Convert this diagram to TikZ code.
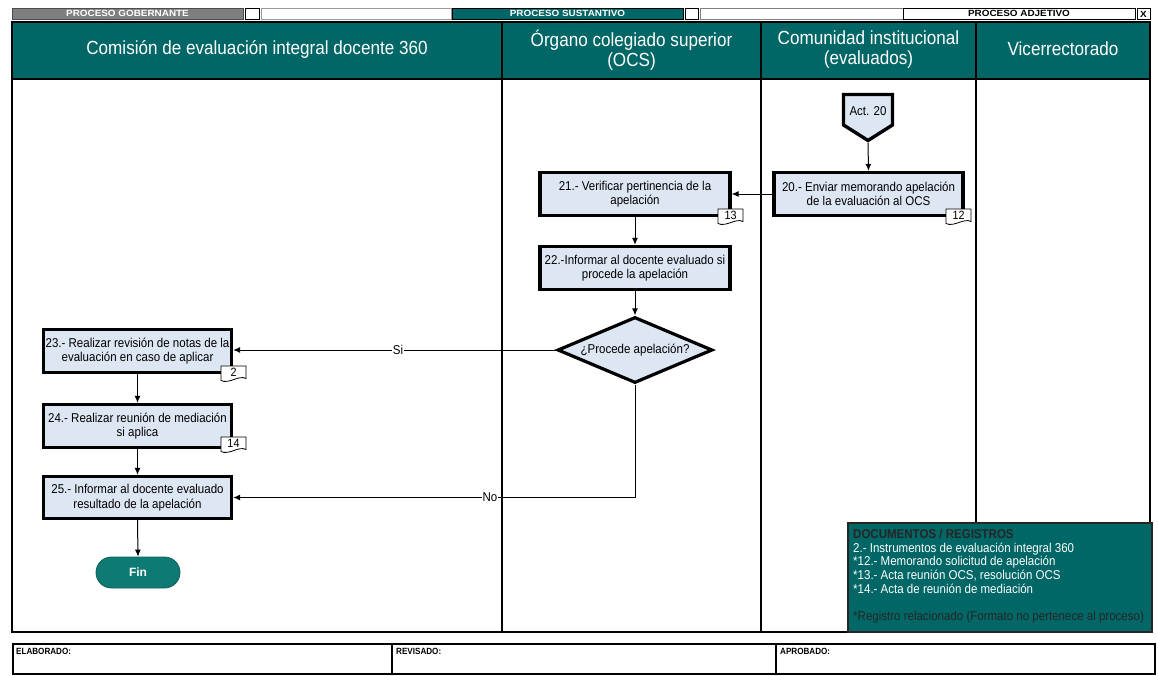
\documentclass[tikz,border=0pt]{standalone}
\usepackage{fontspec}
\setmainfont{Liberation Sans}
\newfontfamily\nar[FakeStretch=0.9]{Liberation Sans}
\newfontfamily\wide[FakeStretch=1.1]{Liberation Sans}
\usetikzlibrary{arrows.meta,shapes.geometric}
\definecolor{teal1}{HTML}{006666}
\definecolor{boxfill}{HTML}{DDE6F3}
\definecolor{finfill}{HTML}{0E7A73}
\definecolor{stripgray}{HTML}{7F7F7F}
\newcommand\doctag[4]{%
  \begin{scope}[shift={(#2,#3)}]
    \draw[tagshape] (0,0) -- (25,0) -- (25,12.5) .. controls (18,8.5) and (8,18.5) .. (0,14.5) -- cycle;
    \node[tagtext] (#1) at (12.5,6.5) {#4};
  \end{scope}}
\begin{document}
\begin{tikzpicture}[x=1pt,y=-1pt,
  proc/.style={draw=black, line width=3.4pt, fill=boxfill, align=center, inner sep=1pt,
    font=\nar\fontsize{12.8}{14.5}\selectfont},
  conn/.style={line width=1pt, -{Latex[length=7pt,width=6pt]}},
  hdr/.style={text=white, align=center, font=\nar\fontsize{19}{20}\selectfont},
  lbl/.style={fill=white, inner sep=1pt, font=\nar\fontsize{12.8}{14}\selectfont},
  tagshape/.style={draw=black, line width=0.8pt, fill=white},
  tagtext/.style={inner sep=0pt, font=\nar\fontsize{12}{12}\selectfont},
  striptext/.style={inner sep=0pt, font=\wide\bfseries\fontsize{9}{9}\selectfont},
  foottext/.style={anchor=north west, inner sep=0pt, font=\nar\bfseries\fontsize{9}{10}\selectfont},
]
\useasboundingbox (0,0) rectangle (1158,675);

% ---- top strip ----
\draw[line width=0.8pt, fill=stripgray, draw=black!70] (12,8) rectangle (243,19);
\node[striptext, text=white] (sgob) at (127.5,13.5) {PROCESO GOBERNANTE};
\draw[line width=0.8pt, fill=white] (245,8) rectangle (259,19);
\draw[line width=0.6pt, draw=black!40, fill=white] (261,8) rectangle (451,19);
\draw[line width=0.8pt, fill=teal1, draw=black] (452,8) rectangle (683,19);
\node[striptext, text=white] (ssus) at (567.5,13.5) {PROCESO SUSTANTIVO};
\draw[line width=0.8pt, fill=white] (685,8) rectangle (698,19);
\draw[line width=0.6pt, draw=black!50, fill=white] (700,8) rectangle (903,19);
\draw[line width=0.8pt, fill=white] (903,8) rectangle (1135,19);
\node[striptext, text=black] (sadj) at (1019,13.5) {PROCESO ADJETIVO};
\draw[line width=0.8pt, fill=white] (1137,8) rectangle (1150,19);
\node[striptext, text=black] (sx) at (1143.5,14) {X};

% ---- main frame ----
\fill[teal1] (12,22) rectangle (1150,79);
\draw[line width=2pt] (502,22) -- (502,632);
\draw[line width=2pt] (761,22) -- (761,632);
\draw[line width=2pt] (976,22) -- (976,632);
\draw[line width=2.8pt] (12,79) -- (1150,79);
\draw[line width=2.5pt] (12,22) rectangle (1150,632);

\node[hdr] (h1) at (257,49) {Comisión de evaluación integral docente 360};
\node[hdr] (h2) at (631.5,50) {Órgano colegiado superior\\(OCS)};
\node[hdr] (h3) at (868.5,50) {Comunidad institucional\\(evaluados)};
\node[hdr] (h4) at (1063,49) {Vicerrectorado};

% ---- off-page connector ----
\draw[line width=3.4pt, fill=boxfill] (843.5,94.5) -- (892.5,94.5) -- (892.5,125) -- (868,140.5) -- (843.5,125) -- cycle;
\node[font=\nar\fontsize{12.8}{14}\selectfont, inner sep=0pt] (act) at (868,111) {Act. 20};
\coordinate (acttip) at (868,143);

% ---- process boxes ----
\node[proc, minimum width=189pt, minimum height=43pt] (b20) at (868.5,194) {20.- Enviar memorando apelación\\de la evaluación al OCS};
\node[proc, minimum width=190pt, minimum height=43pt] (b21) at (635,194) {21.- Verificar pertinencia de la\\apelación};
\node[proc, minimum width=190pt, minimum height=43pt] (b22) at (635,268) {22.-Informar al docente evaluado si\\procede la apelación};
\node[diamond, draw=black, line width=3.2pt, fill=boxfill, minimum width=155pt, minimum height=66pt,
  inner sep=0pt, shape aspect=2.3, font=\nar\fontsize{12.8}{14}\selectfont] (dq) at (635,350) {¿Procede apelación?};
\node[proc, minimum width=188pt, minimum height=43pt] (b23) at (137.5,351) {23.- Realizar revisión de notas de la\\evaluación en caso de aplicar};
\node[proc, minimum width=188pt, minimum height=43pt] (b24) at (137.5,426) {24.- Realizar reunión de mediación\\si aplica};
\node[proc, minimum width=188pt, minimum height=42pt] (b25) at (137.5,497.5) {25.- Informar al docente evaluado\\resultado de la apelación};
\node[draw=finfill!80!black, line width=0.8pt, fill=finfill, rounded corners=15.5pt, minimum width=84pt, minimum height=31pt,
  text=white, font=\bfseries\fontsize{12}{12}\selectfont] (fin) at (138,572.5) {Fin};

% ---- document tags ----
\doctag{t12}{946}{209}{12}
\doctag{t13}{718}{209}{13}
\doctag{t2}{221}{366}{2}
\doctag{t14}{221}{437}{14}

% ---- connectors ----
\draw[conn] (acttip) -- (b20.north);
\draw[conn] (b20.west) -- (b21.east);
\draw[conn] (b21.south) -- (b22.north);
\draw[conn] (b22.south) -- (dq.north);
\draw[conn] (dq.west) -- (b23.east |- dq.west);
\draw[conn] (dq.south) |- (b25.east);
\draw[conn] (b23.south) -- (b24.north);
\draw[conn] (b24.south) -- (b25.north);
\draw[conn] (b25.south) -- (fin.north);
\node[lbl] (si) at (398,350) {Si};
\node[lbl] (no) at (490,497.5) {No};

% ---- documents box ----
\draw[line width=1.2pt, fill=teal1, draw=black!85] (848,523) rectangle (1152,632);
\node[anchor=north west, inner sep=0pt, align=left, text=white, font=\nar\fontsize{12.8}{13.7}\selectfont] (docs) at (853,529)
 {{\color{black!85}\bfseries DOCUMENTOS / REGISTROS}\\
  2.- Instrumentos de evaluación integral 360\\
  *12.- Memorando solicitud de apelación\\
  *13.- Acta reunión OCS, resolución OCS\\
  *14.- Acta de reunión de mediación\\
  \mbox{}\\
  {\color{black!85}*Registro relacionado (Formato no pertenece al proceso)}};

% ---- footer ----
\draw[line width=2.8pt] (13,644) rectangle (1155,674);
\draw[line width=2pt] (392,644) -- (392,674);
\draw[line width=2pt] (776,644) -- (776,674);
\node[foottext] (fe) at (16,648) {ELABORADO:};
\node[foottext] (fr) at (396,648) {REVISADO:};
\node[foottext] (fa) at (780,648) {APROBADO:};
\end{tikzpicture}
\end{document}
